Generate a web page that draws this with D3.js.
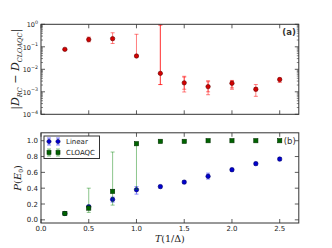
<!DOCTYPE html>
<html>
<head>
<meta charset="utf-8">
<script src="https://cdn.jsdelivr.net/npm/d3@7"></script>
<style>
  body { margin: 0; background: #fff; }
  svg text { font-family: "DejaVu Sans", sans-serif; }
  .math { font-family: "DejaVu Serif", "Liberation Serif", serif; font-style: italic; }
</style>
</head>
<body>
<div id="chart"></div>
<script>
// x positions (T in units of 1/Delta)
const T = [0.25, 0.5, 0.75, 1.0, 1.25, 1.5, 1.75, 2.0, 2.25, 2.5];

// panel (a): |D_RC - D_CLOAQC|
const diff = [0.077, 0.21, 0.23, 0.039, 0.0066, 0.0025, 0.0017, 0.0024, 0.0013, 0.0035];
const diffLo = [0.071, 0.166, 0.14, 0.039, 0.0021, 0.00098, 0.00074, 0.0013, 0.00063, 0.0026];
const diffHi = [0.085, 0.27, 0.42, 0.36, 0.93, 0.0049, 0.0031, 0.0032, 0.0021, 0.0041];
// second (inner) error set, overlapping the first
const diffLo2 = [0.077, 0.21, 0.23, 0.039, 0.0021, 0.0013, 0.001, 0.0015, 0.0011, 0.0035];
const diffHi2 = [0.077, 0.21, 0.23, 0.039, 0.93, 0.0045, 0.0028, 0.003, 0.0015, 0.0035];

// panel (b): P(E0)
const linear = [0.08, 0.165, 0.258, 0.38, 0.42, 0.477, 0.55, 0.633, 0.71, 0.768];
const linearLo = [0.07, 0.145, 0.224, 0.325, 0.40, 0.457, 0.515, 0.613, 0.69, 0.748];
const linearHi = [0.09, 0.185, 0.287, 0.42, 0.44, 0.497, 0.59, 0.653, 0.73, 0.788];
const cloaqc = [0.081, 0.148, 0.36, 0.962, 0.992, 0.992, 1.0, 1.0, 1.0, 1.0];
const cloaqcLo = [0.081, 0.094, 0.186, 0.385, 0.992, 0.992, 1.0, 1.0, 1.0, 1.0];
const cloaqcHi = [0.081, 0.40, 0.857, 0.962, 0.992, 0.992, 1.0, 1.0, 1.0, 1.0];

const xTicks = [0.0, 0.5, 1.0, 1.5, 2.0, 2.5];
const logTicks = [1e-4, 1e-3, 1e-2, 1e-1, 1e0];
const pTicks = [0.0, 0.2, 0.4, 0.6, 0.8, 1.0];
const seriesNames = ['Linear', 'CLOAQC'];

const W = 332, H = 248;
const left = 41, right = 298.8;
const topA = 24.3, botA = 114.3;
const topB = 132.8, botB = 223;

const svg = d3.select('#chart').append('svg')
  .attr('width', W).attr('height', H);

const x = d3.scaleLinear().domain([0, 2.7]).range([left, right]);
const yA = d3.scaleLog().domain([1e-4, 1]).range([botA, topA]);
const yB = d3.scaleLinear().domain([-0.04, 1.1]).range([botB, topB]);

const frameColor = '#333';

// ticks pointing inward on all four sides
function frame(y, top, bot, yTickVals, minor) {
  const g = svg.append('g');
  xTicks.forEach(function (t) {
    g.append('line').attr('x1', x(t)).attr('x2', x(t)).attr('y1', bot).attr('y2', bot - 4).attr('stroke', frameColor).attr('stroke-width', 0.8);
    g.append('line').attr('x1', x(t)).attr('x2', x(t)).attr('y1', top).attr('y2', top + 4).attr('stroke', frameColor).attr('stroke-width', 0.8);
  });
  yTickVals.forEach(function (t) {
    g.append('line').attr('x1', left).attr('x2', left + 4).attr('y1', y(t)).attr('y2', y(t)).attr('stroke', frameColor).attr('stroke-width', 0.8);
    g.append('line').attr('x1', right).attr('x2', right - 4).attr('y1', y(t)).attr('y2', y(t)).attr('stroke', frameColor).attr('stroke-width', 0.8);
  });
  (minor || []).forEach(function (t) {
    g.append('line').attr('x1', left).attr('x2', left + 2).attr('y1', y(t)).attr('y2', y(t)).attr('stroke', frameColor).attr('stroke-width', 0.6);
    g.append('line').attr('x1', right).attr('x2', right - 2).attr('y1', y(t)).attr('y2', y(t)).attr('stroke', frameColor).attr('stroke-width', 0.6);
  });
  g.append('rect').attr('x', left).attr('y', top).attr('width', right - left).attr('height', bot - top)
    .attr('fill', 'none').attr('stroke', frameColor).attr('stroke-width', 1);
}

// minor log ticks 2..9 per decade
const minorA = [];
for (let e = -4; e < 0; e++) {
  for (let m = 2; m <= 9; m++) minorA.push(m * Math.pow(10, e));
}

function errorbars(g, y, vals, lo, hi, color, opacity) {
  const sel = g.append('g').attr('stroke', color).attr('stroke-opacity', opacity).attr('stroke-width', 1);
  vals.forEach(function (v, i) {
    if (lo[i] === hi[i]) return;
    const cx = x(T[i]);
    sel.append('line').attr('x1', cx).attr('x2', cx).attr('y1', y(lo[i])).attr('y2', y(hi[i]));
    sel.append('line').attr('x1', cx - 2).attr('x2', cx + 2).attr('y1', y(lo[i])).attr('y2', y(lo[i]));
    sel.append('line').attr('x1', cx - 2).attr('x2', cx + 2).attr('y1', y(hi[i])).attr('y2', y(hi[i]));
  });
}

// ---------- panel (a) ----------
const gA = svg.append('g');
errorbars(gA, yA, diff, diffLo, diffHi, '#ff0000', 0.5);
errorbars(gA, yA, diff, diffLo2, diffHi2, '#ff0000', 0.5);
gA.selectAll('circle').data(diff).enter().append('circle')
  .attr('cx', function (d, i) { return x(T[i]); })
  .attr('cy', function (d) { return yA(d); })
  .attr('r', 2.2)
  .attr('fill', '#d40000')
  .attr('stroke', '#600000')
  .attr('stroke-width', 0.6);
frame(yA, topA, botA, logTicks, minorA);

// log tick labels 10^n
logTicks.forEach(function (t) {
  const e = Math.round(Math.log10(t));
  const tx = svg.append('text')
    .attr('x', left - 3).attr('y', yA(t) + 3)
    .attr('text-anchor', 'end')
    .attr('font-size', 6.5).attr('fill', '#222');
  tx.append('tspan').text('10');
  tx.append('tspan').attr('dy', -3.5).attr('font-size', 4.8).text(String(e).replace('-', '\u2212'));
});

svg.append('text')
  .attr('x', right - 3).attr('y', topA + 11)
  .attr('text-anchor', 'end').attr('font-size', 8.5).attr('font-weight', 'bold').attr('fill', '#333')
  .text('(a)');

// y label for (a)
const labA = svg.append('text').attr('class', 'math')
  .attr('transform', 'translate(19,' + (topA + botA) / 2 + ') rotate(-90)')
  .attr('text-anchor', 'middle').attr('font-size', 11).attr('fill', '#222');
labA.append('tspan').attr('font-style', 'normal').text('|');
labA.append('tspan').text('D');
labA.append('tspan').attr('font-size', 6.5).attr('dy', 2.5).text('RC');
labA.append('tspan').attr('dy', -2.5).attr('font-style', 'normal').text(' \u2212 ');
labA.append('tspan').text('D');
labA.append('tspan').attr('font-size', 6.5).attr('dy', 2.5).text('CLOAQC');
labA.append('tspan').attr('dy', -2.5).attr('font-style', 'normal').text('|');

// ---------- panel (b) ----------
const gB = svg.append('g');
errorbars(gB, yB, linear, linearLo, linearHi, '#0000ff', 0.45);
gB.append('g').selectAll('circle').data(linear).enter().append('circle')
  .attr('cx', function (d, i) { return x(T[i]); })
  .attr('cy', function (d) { return yB(d); })
  .attr('r', 2.2)
  .attr('fill', '#0000d0')
  .attr('stroke', '#000060')
  .attr('stroke-width', 0.6);
errorbars(gB, yB, cloaqc, cloaqcLo, cloaqcHi, '#008000', 0.45);
gB.append('g').selectAll('rect').data(cloaqc).enter().append('rect')
  .attr('x', function (d, i) { return x(T[i]) - 2.1; })
  .attr('y', function (d) { return yB(d) - 2.1; })
  .attr('width', 4.2).attr('height', 4.2)
  .attr('fill', '#006400')
  .attr('stroke', '#003000')
  .attr('stroke-width', 0.6);
frame(yB, topB, botB, pTicks, null);

pTicks.forEach(function (t) {
  svg.append('text')
    .attr('x', left - 3).attr('y', yB(t) + 2.5)
    .attr('text-anchor', 'end').attr('font-size', 7).attr('fill', '#222')
    .text(d3.format('.1f')(t));
});
xTicks.forEach(function (t) {
  svg.append('text')
    .attr('x', x(t)).attr('y', botB + 7.5)
    .attr('text-anchor', 'middle').attr('font-size', 7).attr('fill', '#222')
    .text(d3.format('.1f')(t));
});

svg.append('text')
  .attr('x', right - 3).attr('y', yB(1.0) + 3)
  .attr('text-anchor', 'end').attr('font-size', 8.5).attr('fill', '#333')
  .text('(b)');

// y label for (b)
const labB = svg.append('text').attr('class', 'math')
  .attr('transform', 'translate(21,' + (topB + botB) / 2 + ') rotate(-90)')
  .attr('text-anchor', 'middle').attr('font-size', 10).attr('fill', '#222');
labB.append('tspan').text('P');
labB.append('tspan').attr('font-style', 'normal').text('(');
labB.append('tspan').text('E');
labB.append('tspan').attr('font-size', 6).attr('dy', 2).attr('font-style', 'normal').text('0');
labB.append('tspan').attr('dy', -2).attr('font-style', 'normal').text(')');

// x label
const labX = svg.append('text').attr('class', 'math')
  .attr('x', (left + right) / 2).attr('y', 242)
  .attr('text-anchor', 'middle').attr('font-size', 9.5).attr('fill', '#222');
labX.append('tspan').text('T');
labX.append('tspan').attr('font-style', 'normal').text('(1/\u0394)');

// legend
const leg = svg.append('g');
leg.append('rect').attr('x', 44).attr('y', 136).attr('width', 55.5).attr('height', 22.5)
  .attr('fill', '#fff').attr('stroke', frameColor).attr('stroke-width', 1);
const legStyles = [
  { fill: '#0000d0', stroke: '#000060', err: '#0000ff', shape: 'circle' },
  { fill: '#006400', stroke: '#003000', err: '#008000', shape: 'square' }
];
seriesNames.forEach(function (name, i) {
  const cy = 141.5 + i * 11;
  const s = legStyles[i];
  [49, 58].forEach(function (cx) {
    leg.append('line').attr('x1', cx).attr('x2', cx).attr('y1', cy - 3.5).attr('y2', cy + 3.5)
      .attr('stroke', s.err).attr('stroke-opacity', 0.5);
    leg.append('line').attr('x1', cx - 2).attr('x2', cx + 2).attr('y1', cy - 3.5).attr('y2', cy - 3.5)
      .attr('stroke', s.err).attr('stroke-opacity', 0.5);
    leg.append('line').attr('x1', cx - 2).attr('x2', cx + 2).attr('y1', cy + 3.5).attr('y2', cy + 3.5)
      .attr('stroke', s.err).attr('stroke-opacity', 0.5);
    if (s.shape === 'circle') {
      leg.append('circle').attr('cx', cx).attr('cy', cy).attr('r', 2.1)
        .attr('fill', s.fill).attr('stroke', s.stroke).attr('stroke-width', 0.6);
    } else {
      leg.append('rect').attr('x', cx - 2).attr('y', cy - 2).attr('width', 4).attr('height', 4)
        .attr('fill', s.fill).attr('stroke', s.stroke).attr('stroke-width', 0.6);
    }
  });
  leg.append('text').attr('x', 66).attr('y', cy + 2.5)
    .attr('font-size', 7).attr('fill', '#222').text(name);
});
</script>
</body>
</html>
